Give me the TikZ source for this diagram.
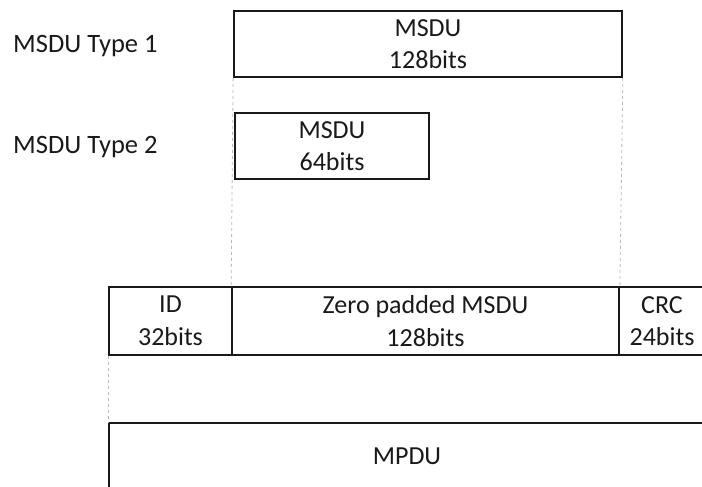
\documentclass[tikz,border=0pt]{standalone}
\usepackage{fontspec}
\setmainfont{Carlito}
\begin{document}
\begin{tikzpicture}[x=1pt,y=-1pt,
  field/.style={draw=black!90, line width=1.7pt, inner sep=0pt, align=center,
    font=\fontsize{26}{32.5}\selectfont, text=black!90},
  guide/.style={draw=black!28, line width=0.8pt, dash pattern=on 3pt off 3pt},
  caption/.style={anchor=base west, inner sep=0pt,
    font=\fontsize{26.5}{30}\selectfont, text=black!90}]
\useasboundingbox (0,0) rectangle (702,487);

% row labels
\node[caption] (c1) at (13,53) {MSDU Type 1};
\node[caption] (c2) at (13,153) {MSDU Type 2};

% MSDU variants
\node[field, minimum width=388, minimum height=66] (t1) at (428,44) {MSDU\\128bits};
\node[field, minimum width=194, minimum height=66] (t2) at (332,146) {MSDU\\64bits};

% frame fields
\node[field, minimum width=123, minimum height=68] (id) at (170.5,321) {ID\\32bits};
\node[field, minimum width=387, minimum height=68] (zp) at (425.5,321) {Zero padded MSDU\\128bits};
\node[field, minimum width=86, minimum height=68] (crc) at (662,321) {CRC\\24bits};

% resulting MPDU
\node[field, minimum width=596, minimum height=66] (mpdu) at (407,456) {MPDU};

% alignment guides
\draw[guide] (t1.south west) -- (zp.north west);
\draw[guide] (t1.south east) -- (zp.north east);
\draw[guide] (id.south west) -- (mpdu.north west);
\end{tikzpicture}
\end{document}
